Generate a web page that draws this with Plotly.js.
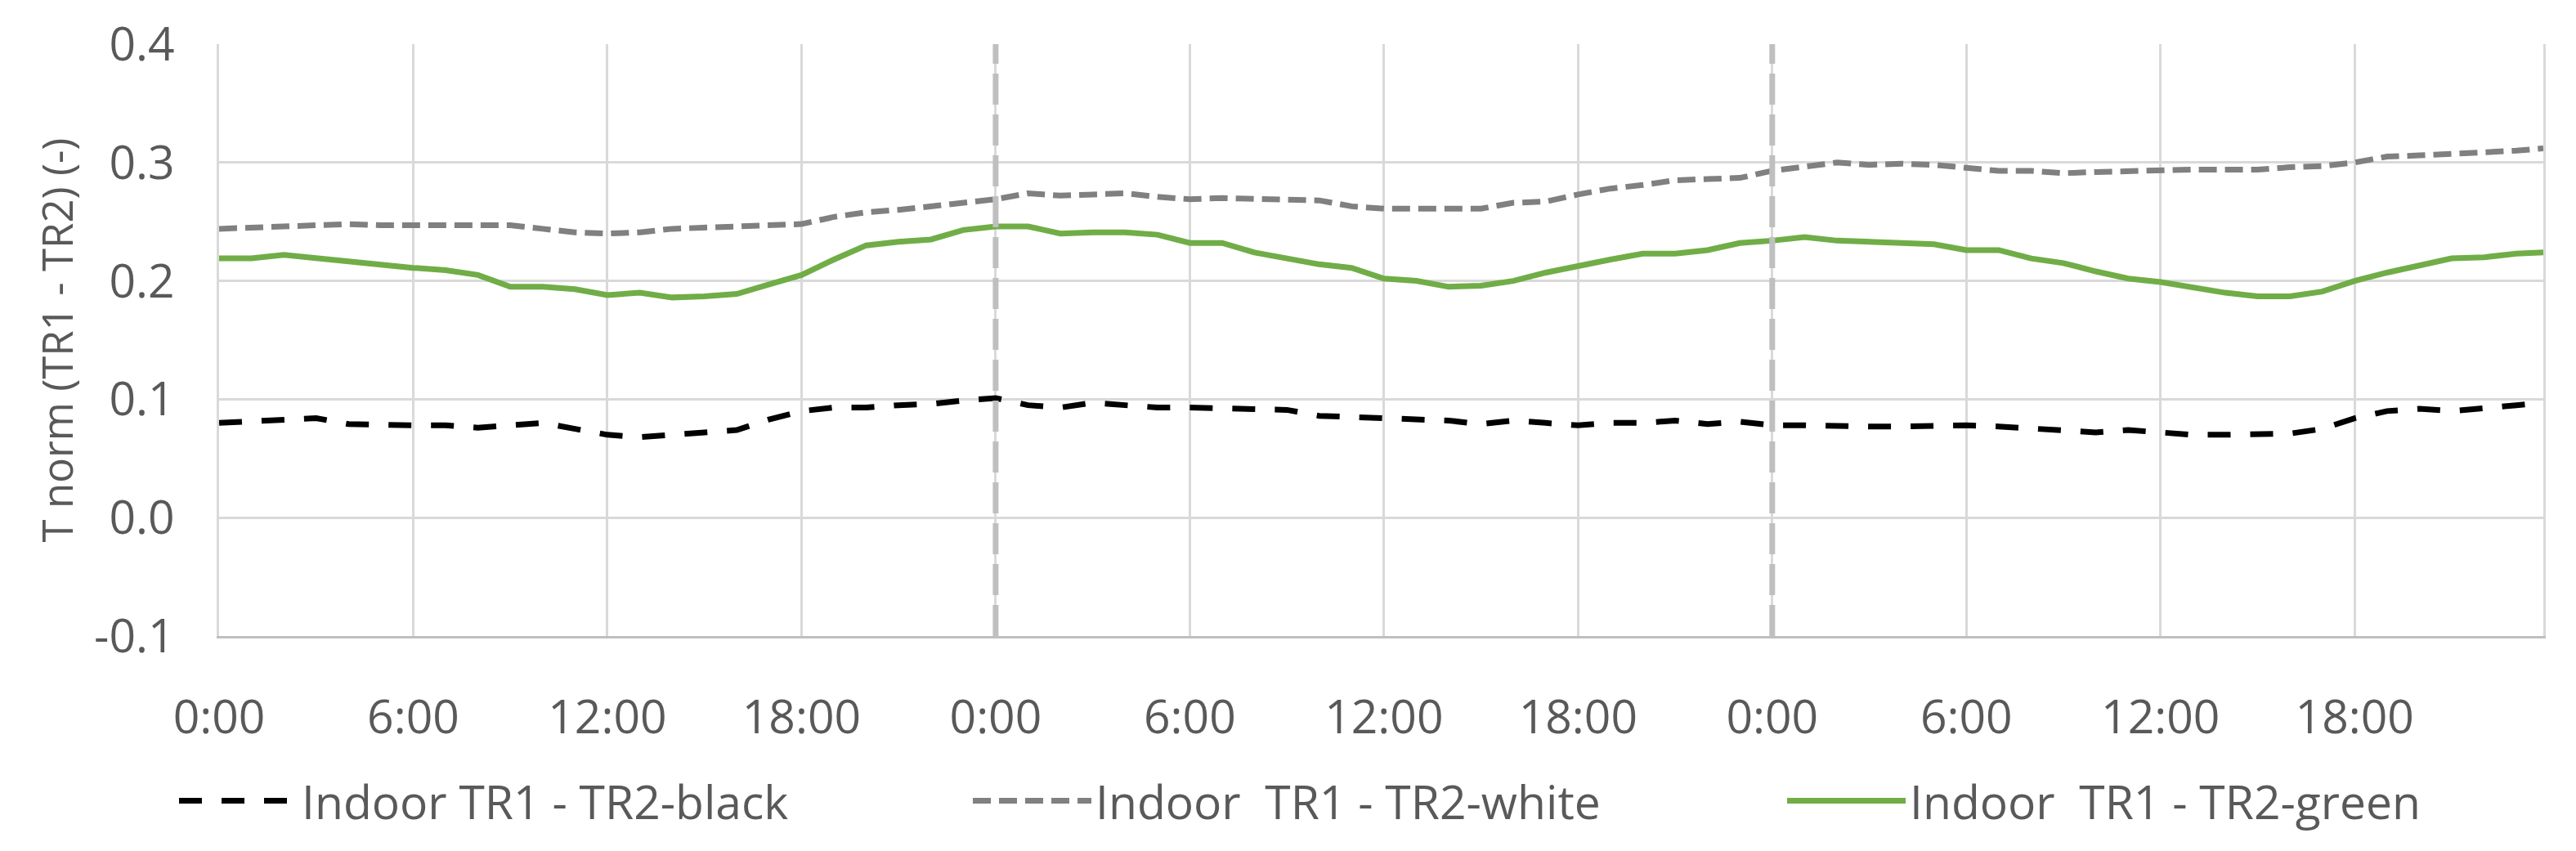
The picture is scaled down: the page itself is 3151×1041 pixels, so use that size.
<!DOCTYPE html>
<html>
<head>
<meta charset="utf-8">
<script src="https://cdn.plot.ly/plotly-3.0.1.min.js"></script>
<style>
  html, body { margin: 0; padding: 0; background: #ffffff; }
  #chart { width: 3151px; height: 1041px; }
</style>
</head>
<body>
<div id="chart"></div>
<script>
// ---- data (hours since start) ----
const hours = [0,1,2,3,4,5,6,7,8,9,10,11,12,13,14,15,16,17,18,19,20,21,22,23,
  24,25,26,27,28,29,30,31,32,33,34,35,36,37,38,39,40,41,42,43,44,45,46,47,
  48,49,50,51,52,53,54,55,56,57,58,59,60,61,62,63,64,65,66,67,68,69,70,71,71.83];

const blackSeries = [0.080,0.081,0.082,0.084,0.079,0.078,0.078,0.078,0.076,0.078,0.080,0.075,
  0.070,0.068,0.070,0.072,0.074,0.083,0.090,0.093,0.093,0.095,0.096,0.099,
  0.101,0.095,0.093,0.097,0.095,0.093,0.093,0.092,0.091,0.091,0.086,0.085,
  0.085,0.083,0.082,0.079,0.082,0.080,0.078,0.080,0.080,0.082,0.079,0.081,
  0.078,0.078,0.077,0.077,0.077,0.078,0.078,0.077,0.075,0.074,0.072,0.074,
  0.072,0.070,0.070,0.070,0.071,0.075,0.084,0.090,0.092,0.090,0.092,0.095,0.097];

const whiteSeries = [0.244,0.245,0.246,0.247,0.248,0.247,0.247,0.247,0.247,0.247,0.244,0.241,
  0.240,0.241,0.244,0.245,0.246,0.247,0.248,0.254,0.258,0.260,0.263,0.267,
  0.269,0.274,0.272,0.273,0.274,0.271,0.269,0.270,0.269,0.268,0.268,0.263,
  0.261,0.261,0.261,0.261,0.266,0.267,0.273,0.278,0.281,0.285,0.286,0.287,
  0.293,0.297,0.300,0.298,0.299,0.298,0.296,0.293,0.293,0.291,0.292,0.293,
  0.293,0.294,0.294,0.294,0.296,0.297,0.300,0.305,0.306,0.307,0.309,0.310,0.312];

const greenSeries = [0.219,0.219,0.222,0.219,0.217,0.213,0.211,0.209,0.205,0.195,0.195,0.193,
  0.188,0.190,0.186,0.187,0.189,0.197,0.205,0.218,0.230,0.233,0.235,0.243,
  0.246,0.246,0.240,0.241,0.241,0.239,0.232,0.232,0.224,0.219,0.214,0.211,
  0.202,0.200,0.195,0.196,0.200,0.207,0.213,0.218,0.223,0.223,0.226,0.232,
  0.234,0.237,0.234,0.233,0.232,0.231,0.226,0.226,0.219,0.215,0.208,0.202,
  0.199,0.194,0.190,0.187,0.187,0.191,0.200,0.207,0.213,0.219,0.220,0.223,0.224];

const seriesNames = ['Indoor TR1 - TR2-black', 'Indoor  TR1 - TR2-white', 'Indoor  TR1 - TR2-green'];

const dayBoundaries = [24, 48];
const xTickVals = [0,6,12,18,24,30,36,42,48,54,60,66];
const xTickLabels = ['0:00','6:00','12:00','18:00','0:00','6:00','12:00','18:00','0:00','6:00','12:00','18:00'];
const yTickVals = [-0.1, 0.0, 0.1, 0.2, 0.3, 0.4];
const yTickLabels = ['-0.1','0.0','0.1','0.2','0.3','0.4'];
const xRange = [0, 71.83];
const yRange = [-0.1, 0.4];
const yTitle = 'T norm (TR1 - TR2) (-)';

// ---- styling ----
const FONT = '"Open Sans", "Liberation Sans", sans-serif';
const TXT = '#595959';
const GRID = '#D9D9D9';

const traces = [
  { x: hours, y: blackSeries, name: seriesNames[0], type: 'scatter', mode: 'lines',
    line: { color: '#000000', width: 7, dash: '28px,24px' }, legend: 'legend' },
  { x: hours, y: whiteSeries, name: seriesNames[1], type: 'scatter', mode: 'lines',
    line: { color: '#808080', width: 7, dash: '22px,10px' }, legend: 'legend2' },
  { x: hours, y: greenSeries, name: seriesNames[2], type: 'scatter', mode: 'lines',
    line: { color: '#70AD47', width: 7 }, legend: 'legend3' }
];

dayBoundaries.forEach(function (d) {
  traces.push({ x: [d, d], y: yRange, type: 'scatter', mode: 'lines', showlegend: false,
    hoverinfo: 'skip', line: { color: '#BFBFBF', width: 7, dash: '38px,12px' } });
});

function legendAt(xpx) {
  return { orientation: 'h', xref: 'container', yref: 'container',
    x: xpx / 3151, y: 1 - 980 / 1041, xanchor: 'left', yanchor: 'middle',
    itemwidth: 145, bgcolor: 'rgba(0,0,0,0)', borderwidth: 0,
    font: { family: FONT, size: 57, color: TXT } };
}

const layout = {
  width: 3151, height: 1041,
  margin: { l: 268, r: 40, t: 54, b: 263, pad: 0 },
  paper_bgcolor: '#ffffff', plot_bgcolor: '#ffffff',
  font: { family: FONT, color: TXT, size: 57 },
  showlegend: true,
  legend: legendAt(214),
  legend2: legendAt(1185),
  legend3: legendAt(2181),
  xaxis: {
    range: xRange, tickmode: 'array', tickvals: xTickVals, ticktext: xTickLabels,
    showgrid: true, gridcolor: GRID, gridwidth: 3,
    zeroline: false, showline: true, linecolor: '#BFBFBF', linewidth: 3,
    ticks: '', ticklabelstandoff: 48,
    tickfont: { family: FONT, size: 57, color: TXT }
  },
  yaxis: {
    range: yRange, tickmode: 'array', tickvals: yTickVals, ticktext: yTickLabels,
    showgrid: true, gridcolor: GRID, gridwidth: 3,
    zeroline: false, showline: true, mirror: true, linecolor: GRID, linewidth: 3,
    ticks: '', ticklabelstandoff: 40,
    tickfont: { family: FONT, size: 57, color: TXT },
    title: { text: yTitle, font: { family: FONT, size: 51, color: TXT }, standoff: 10 }
  }
};

Plotly.newPlot('chart', traces, layout, { staticPlot: true, displayModeBar: false });
</script>
</body>
</html>
